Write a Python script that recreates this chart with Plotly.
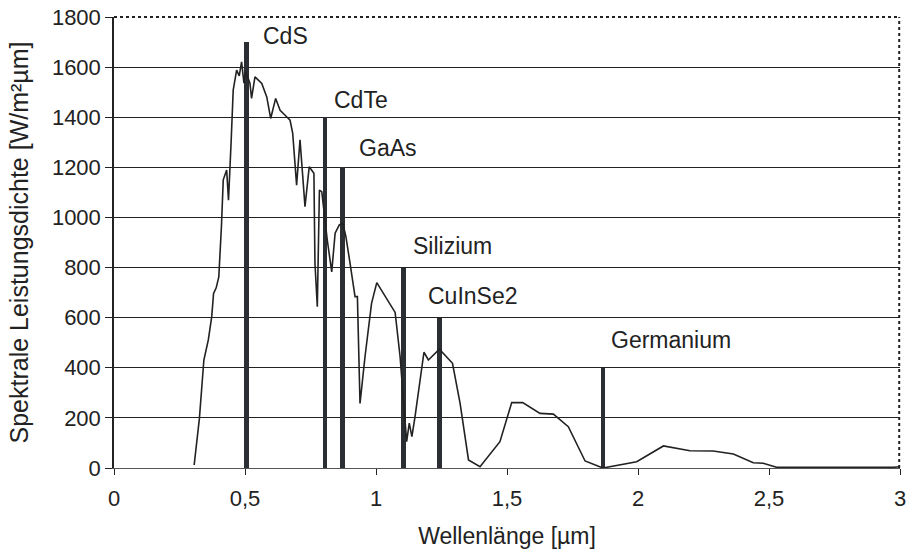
import plotly.graph_objects as go

# Spectrum (wavelength in µm, spectral power density in W/m²µm)
wavelength = [0.306, 0.326, 0.343, 0.360, 0.373, 0.380, 0.390, 0.400, 0.410, 0.417,
              0.430, 0.437, 0.447, 0.455, 0.468, 0.478, 0.487, 0.496, 0.503, 0.519,
              0.525, 0.538, 0.551, 0.564, 0.583, 0.598, 0.617, 0.634, 0.653, 0.672,
              0.682, 0.697, 0.710, 0.729, 0.745, 0.763, 0.767, 0.776, 0.784, 0.793,
              0.814, 0.831, 0.844, 0.860, 0.873, 0.885, 0.901, 0.920, 0.929, 0.939,
              0.958, 0.983, 1.003, 1.073, 1.092, 1.117, 1.127, 1.137, 1.149, 1.183,
              1.200, 1.242, 1.292, 1.321, 1.353, 1.397, 1.473, 1.518, 1.560, 1.626,
              1.677, 1.734, 1.798, 1.866, 1.995, 2.097, 2.198, 2.287, 2.364, 2.440,
              2.478, 2.529, 2.975, 3.000]
power = [12, 198, 431, 511, 604, 697, 719, 763, 963, 1150,
         1189, 1069, 1300, 1508, 1588, 1565, 1621, 1536, 1581, 1535,
         1475, 1561, 1548, 1535, 1481, 1395, 1475, 1428, 1408, 1388,
         1337, 1129, 1310, 1043, 1202, 1176, 817, 644, 1109, 1103,
         910, 783, 937, 970, 977, 924, 817, 684, 684, 258,
         444, 657, 740, 621, 444, 105, 179, 125, 205, 462,
         431, 474, 418, 258, 32, 5, 105, 261, 261, 218,
         215, 165, 28, 0, 25, 88, 69, 68, 56, 21,
         19, 3, 3, 5]

# Band gap markers
materials = ["CdS", "CdTe", "GaAs", "Silizium", "CuInSe2", "Germanium"]
gap_wavelength = [0.505, 0.805, 0.873, 1.104, 1.242, 1.866]
marker_height = [1700, 1400, 1200, 800, 600, 400]
label_x = [0.562, 0.831, 0.929, 1.135, 1.192, 1.891]
label_y = [1724, 1468, 1277, 886, 686, 511]

x_tickvals = [0, 0.5, 1, 1.5, 2, 2.5, 3]
x_ticktext = ["0", "0,5", "1", "1,5", "2", "2,5", "3"]
y_tickvals = [0, 200, 400, 600, 800, 1000, 1200, 1400, 1600, 1800]

FONT = "Liberation Sans, Arial, sans-serif"
INK = "#222222"
FS = 22

fig = go.Figure()
fig.add_trace(go.Bar(x=gap_wavelength, y=marker_height, width=0.018,
                     marker=dict(color="#2b2f33", line=dict(width=0)),
                     showlegend=False, hoverinfo="skip"))
fig.add_trace(go.Scatter(x=wavelength, y=power, mode="lines",
                         line=dict(color=INK, width=1.6),
                         showlegend=False))

for name, lx, ly in zip(materials, label_x, label_y):
    fig.add_annotation(x=lx, y=ly, text=name, showarrow=False,
                       xanchor="left", yanchor="middle",
                       font=dict(family=FONT, size=23, color=INK))

# dotted top and right border
fig.add_shape(type="line", xref="paper", yref="paper", x0=0, x1=1, y0=1, y1=1,
              layer="above", line=dict(color=INK, width=2, dash="dot"))
fig.add_shape(type="line", xref="paper", yref="paper", x0=0.999, x1=0.999, y0=0, y1=1,
              layer="above", line=dict(color=INK, width=2, dash="dot"))

fig.update_layout(
    width=909, height=555,
    margin=dict(l=114, r=9, t=17, b=87),
    paper_bgcolor="white", plot_bgcolor="white",
    bargap=0,
    font=dict(family=FONT, size=FS, color=INK),
    xaxis=dict(range=[0, 3], tickvals=x_tickvals, ticktext=x_ticktext,
               showgrid=False, zeroline=False, automargin=False,
               showline=True, linecolor="#555555", linewidth=1,
               ticks="outside", ticklen=6, tickcolor=INK,
               ticklabelstandoff=5, ticklabeloverflow="allow",
               tickfont=dict(size=FS),
               title=dict(text="Wellenlänge [µm]", font=dict(size=23), standoff=17)),
    yaxis=dict(range=[0, 1800], tickvals=y_tickvals,
               showgrid=True, gridcolor=INK, gridwidth=1,
               zeroline=False, automargin=False,
               showline=True, linecolor=INK, linewidth=1.5,
               ticks="outside", ticklen=7, tickcolor=INK,
               ticklabeloverflow="allow",
               tickfont=dict(size=FS),
               title=dict(text="Spektrale Leistungsdichte [W/m²µm]",
                          font=dict(size=25), standoff=16)),
)

# remove the default 8px page margin so the figure sits at the window origin
fig.write_html("out.html",
               config={"displayModeBar": False},
               post_script="document.body.style.margin='0';document.body.style.overflow='hidden';")
